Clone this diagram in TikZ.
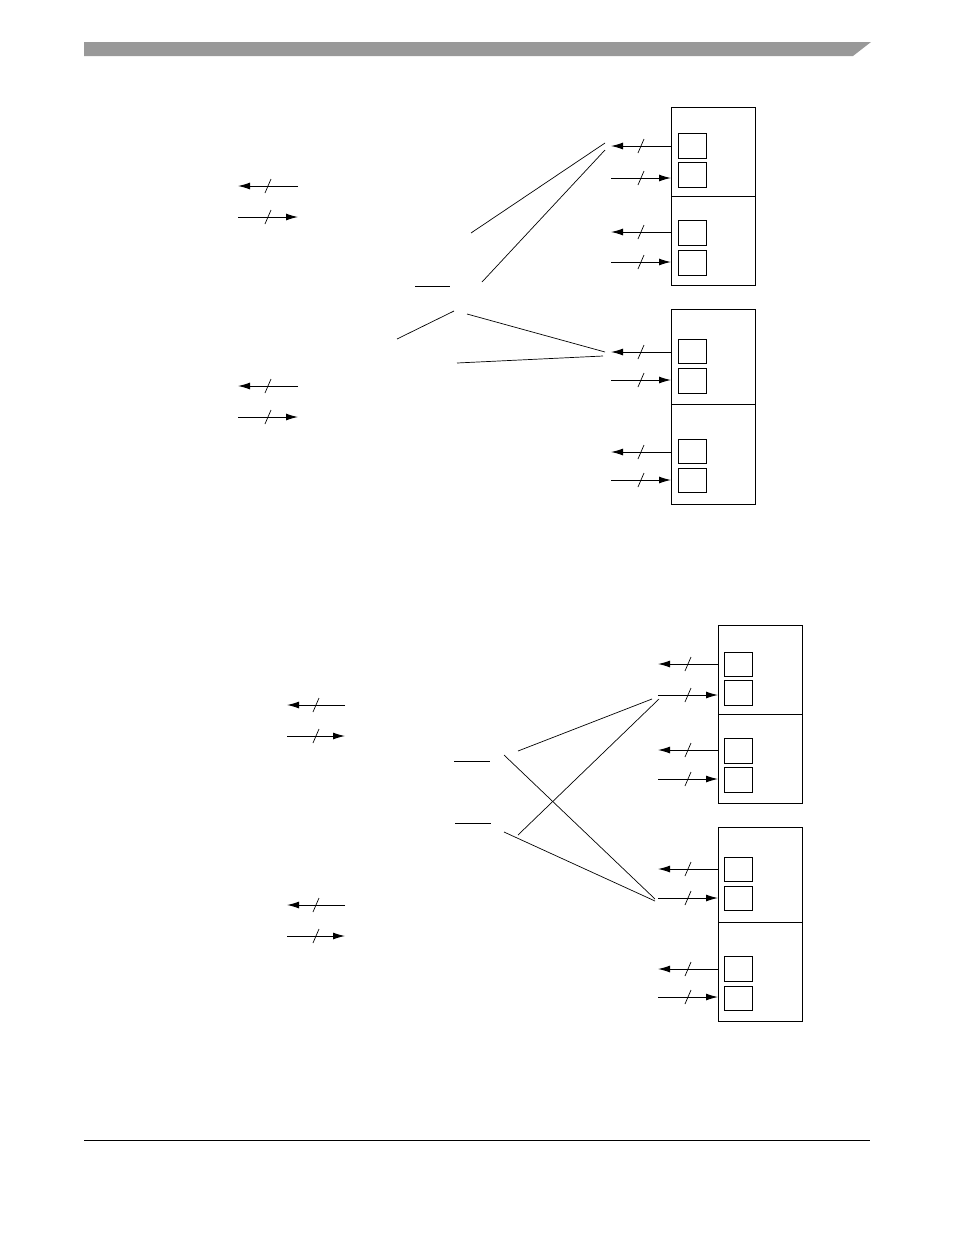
\documentclass[tikz,border=0pt]{standalone}
\usetikzlibrary{arrows.meta}
\definecolor{bargray}{RGB}{153,153,153}
\tikzset{
  unitbox/.style={draw,line width=1pt,minimum width=84pt,inner sep=0pt,anchor=north west},
  regbox/.style={draw,line width=1pt,minimum width=28pt,minimum height=24pt,inner sep=0pt,anchor=north west},
  bus/.style={line width=1pt,-{Latex[length=12pt,width=7pt]}},
  wire/.style={line width=0.7pt},
  tick/.pic={\draw[-,line width=0.7pt] (-3,7) -- (3,-7);}
}
\begin{document}
\begin{tikzpicture}[x=1pt,y=-1pt]
  \useasboundingbox (0,0) rectangle (954,1235);
  \fill[bargray] (84,42) -- (871,42) -- (853,56) -- (84,56) -- cycle;
  \draw[line width=1pt] (84,1140) -- (870,1140);

  % upper figure
  \node[unitbox,minimum height=89pt] (ua1) at (671,107) {};
  \node[unitbox,minimum height=89pt] (ua2) at (671,196) {};
  \node[unitbox,minimum height=95pt] (ub1) at (671,309) {};
  \node[unitbox,minimum height=100pt] (ub2) at (671,404) {};
  \node[regbox,minimum height=25pt] (ra1) at (678,133) {};
  \node[regbox,minimum height=25pt] (ra2) at (678,162) {};
  \node[regbox,minimum height=25pt] (ra3) at (678,220) {};
  \node[regbox,minimum height=25pt] (ra4) at (678,250) {};
  \node[regbox] (rb1) at (678,339) {};
  \node[regbox,minimum height=25pt] (rb2) at (678,368) {};
  \node[regbox] (rb3) at (678,439) {};
  \node[regbox] (rb4) at (678,468) {};

  \coordinate (pa1) at (611,146);
  \coordinate (pa2) at (611,178);
  \coordinate (pa3) at (611,232);
  \coordinate (pa4) at (611,262);
  \coordinate (pb1) at (611,352);
  \coordinate (pb2) at (611,380);
  \coordinate (pb3) at (611,452);
  \coordinate (pb4) at (611,480);
  \draw[bus] (pa1 -| ua1.west) -- (pa1) pic[pos=.5]{tick};
  \draw[bus] (pa2) -- (pa2 -| ua1.west) pic[pos=.5]{tick};
  \draw[bus] (pa3 -| ua2.west) -- (pa3) pic[pos=.5]{tick};
  \draw[bus] (pa4) -- (pa4 -| ua2.west) pic[pos=.5]{tick};
  \draw[bus] (pb1 -| ub1.west) -- (pb1) pic[pos=.5]{tick};
  \draw[bus] (pb2) -- (pb2 -| ub1.west) pic[pos=.5]{tick};
  \draw[bus] (pb3 -| ub2.west) -- (pb3) pic[pos=.5]{tick};
  \draw[bus] (pb4) -- (pb4 -| ub2.west) pic[pos=.5]{tick};

  \coordinate (la1) at (298,186);
  \coordinate (la2) at (298,217);
  \coordinate (la3) at (298,386);
  \coordinate (la4) at (298,417);
  \draw[bus] (la1) -- ++(-60,0) pic[pos=.5]{tick};
  \draw[bus] (la2) ++(-60,0) -- (la2) pic[pos=.5]{tick};
  \draw[bus] (la3) -- ++(-60,0) pic[pos=.5]{tick};
  \draw[bus] (la4) ++(-60,0) -- (la4) pic[pos=.5]{tick};

  \coordinate (ja) at (605,143);
  \coordinate (jb) at (605,150);
  \coordinate (jc) at (605,352);
  \coordinate (jd) at (603,356);
  \draw[wire] (471,233) -- (ja);
  \draw[wire] (482,282) -- (jb);
  \draw[wire] (415,286) -- (450,286);
  \draw[wire] (397,339) -- (454,311);
  \draw[wire] (467,314) -- (jc);
  \draw[wire] (457,363) -- (jd);

  % lower figure
  \node[unitbox,minimum height=89pt] (uc1) at (718,625) {};
  \node[unitbox,minimum height=89pt] (uc2) at (718,714) {};
  \node[unitbox,minimum height=95pt] (ud1) at (718,827) {};
  \node[unitbox,minimum height=99pt] (ud2) at (718,922) {};
  \node[regbox] (rc1) at (724,652) {};
  \node[regbox,minimum height=25pt] (rc2) at (724,680) {};
  \node[regbox,minimum height=25pt] (rc3) at (724,738) {};
  \node[regbox,minimum height=25pt] (rc4) at (724,767) {};
  \node[regbox] (rd1) at (724,857) {};
  \node[regbox] (rd2) at (724,886) {};
  \node[regbox,minimum height=25pt] (rd3) at (724,956) {};
  \node[regbox] (rd4) at (724,986) {};

  \coordinate (pc1) at (658,664);
  \coordinate (pc2) at (658,695);
  \coordinate (pc3) at (658,750);
  \coordinate (pc4) at (658,779);
  \coordinate (pd1) at (658,869);
  \coordinate (pd2) at (658,898);
  \coordinate (pd3) at (658,969);
  \coordinate (pd4) at (658,997);
  \draw[bus] (pc1 -| uc1.west) -- (pc1) pic[pos=.5]{tick};
  \draw[bus] (pc2) -- (pc2 -| uc1.west) pic[pos=.5]{tick};
  \draw[bus] (pc3 -| uc2.west) -- (pc3) pic[pos=.5]{tick};
  \draw[bus] (pc4) -- (pc4 -| uc2.west) pic[pos=.5]{tick};
  \draw[bus] (pd1 -| ud1.west) -- (pd1) pic[pos=.5]{tick};
  \draw[bus] (pd2) -- (pd2 -| ud1.west) pic[pos=.5]{tick};
  \draw[bus] (pd3 -| ud2.west) -- (pd3) pic[pos=.5]{tick};
  \draw[bus] (pd4) -- (pd4 -| ud2.west) pic[pos=.5]{tick};

  \coordinate (lc1) at (345,705);
  \coordinate (lc2) at (345,736);
  \coordinate (lc3) at (345,905);
  \coordinate (lc4) at (345,936);
  \draw[bus] (lc1) -- ++(-58,0) pic[pos=.5]{tick};
  \draw[bus] (lc2) ++(-58,0) -- (lc2) pic[pos=.5]{tick};
  \draw[bus] (lc3) -- ++(-58,0) pic[pos=.5]{tick};
  \draw[bus] (lc4) ++(-58,0) -- (lc4) pic[pos=.5]{tick};

  \coordinate (je) at (652,699);
  \coordinate (jf) at (659,699);
  \coordinate (jg) at (655,899);
  \coordinate (jh) at (655,901);
  \draw[wire] (454,761) -- (490,761);
  \draw[wire] (455,823) -- (491,823);
  \draw[wire] (518,751) -- (je);
  \draw[wire] (504,755) -- (jg);
  \draw[wire] (518,835) -- (jf);
  \draw[wire] (504,832) -- (jh);
\end{tikzpicture}
\end{document}
